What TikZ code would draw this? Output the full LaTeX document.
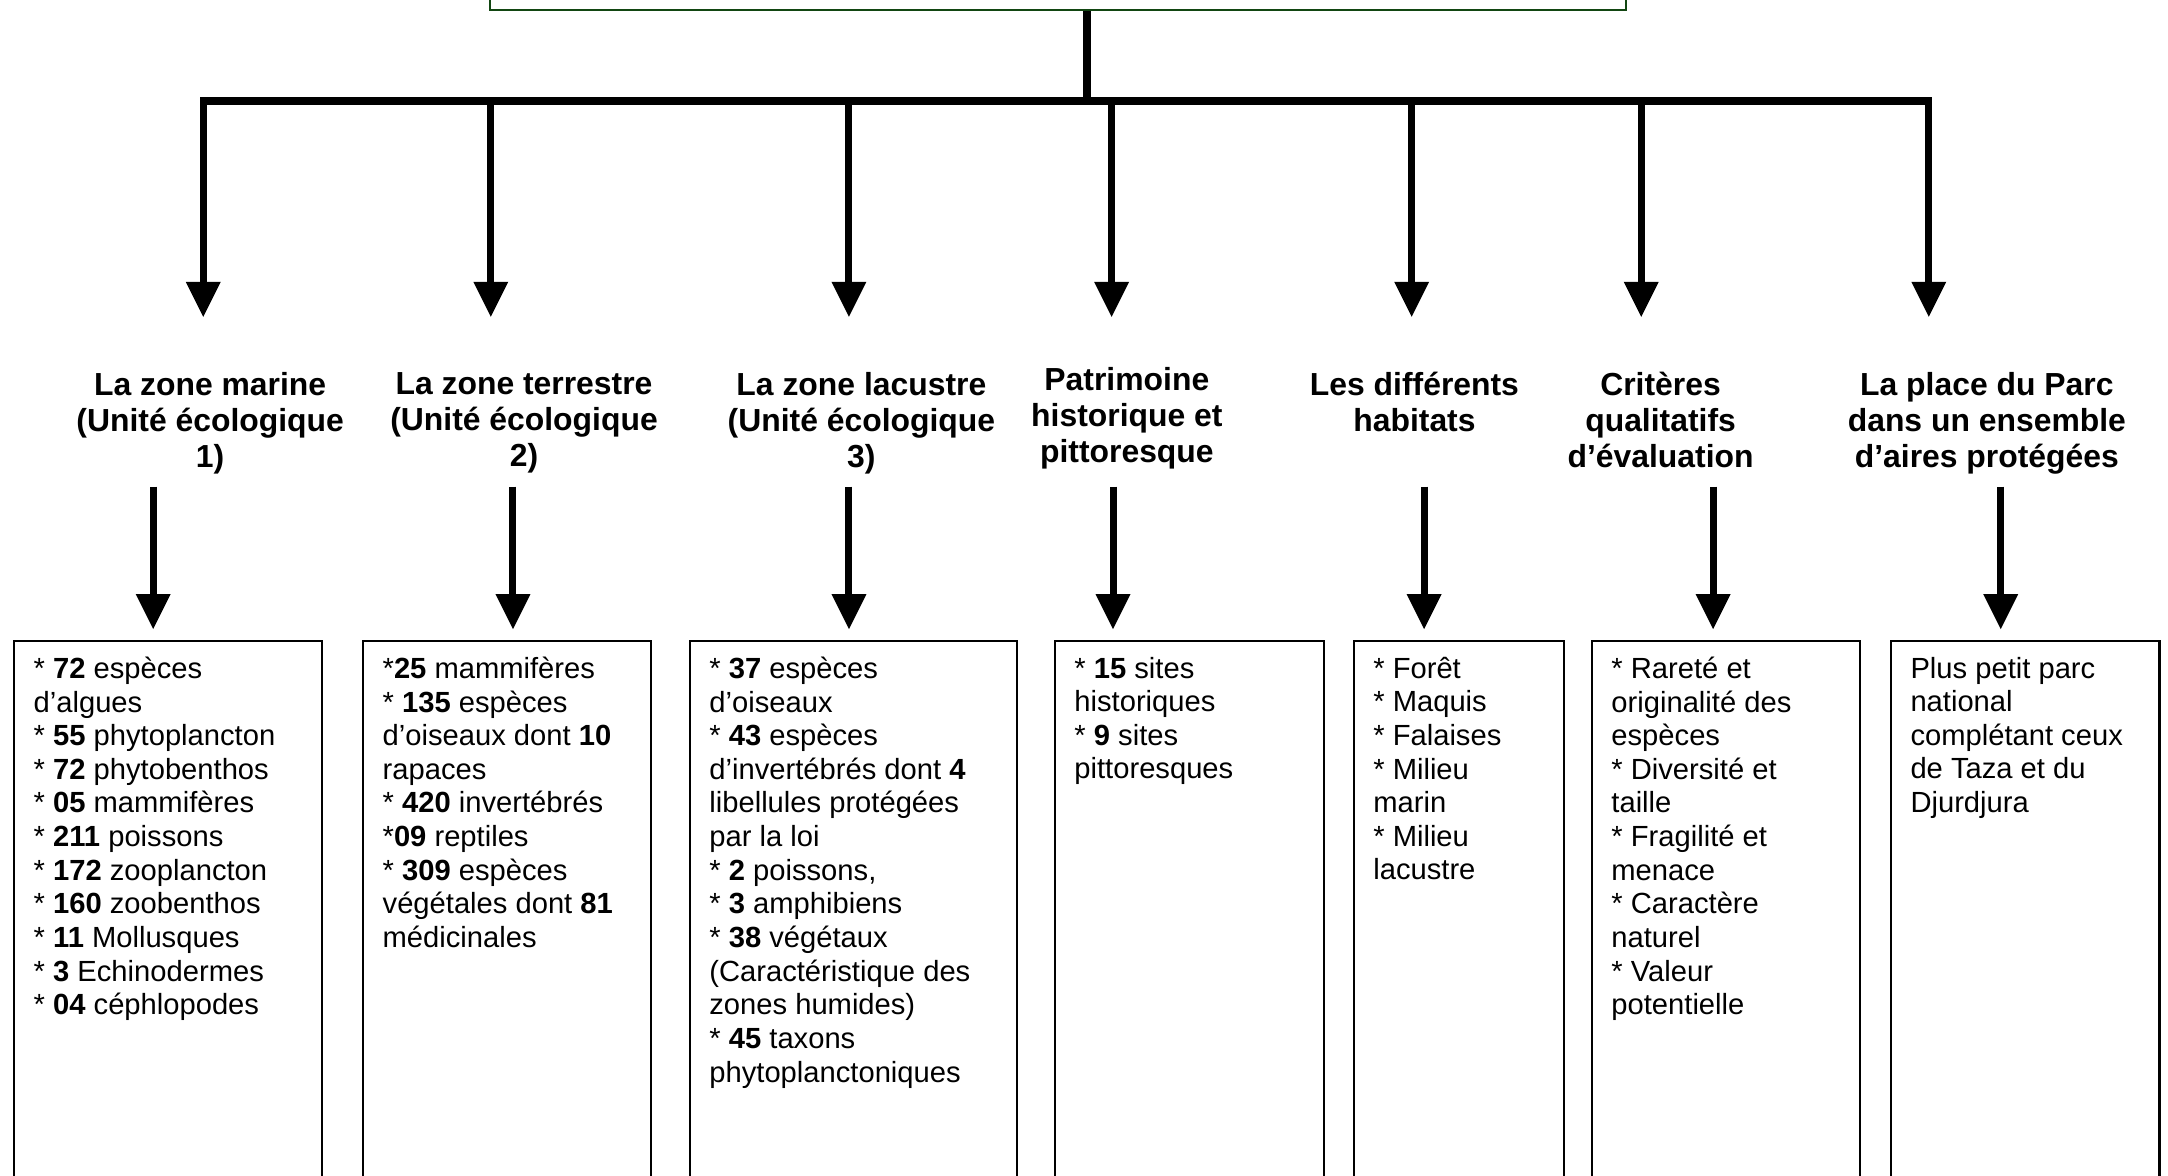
\documentclass[tikz,border=0pt]{standalone}
\usepackage{fontspec}
\setmainfont{Liberation Sans}
\usepackage{tikz}
\usetikzlibrary{arrows.meta,positioning}
\definecolor{parkgreen}{RGB}{18,70,18}
\tikzstyle{parkBlock} = [draw=parkgreen, line width=0.9pt, anchor=south west, inner sep=0pt,
    minimum width=20.53cm, minimum height=4cm]
\tikzstyle{title} = [font=\fontsize{16.4}{18.5}\selectfont\bfseries, align=center, anchor=north, inner sep=0pt]
\tikzstyle{block} = [rectangle, draw, line width=1.1pt, anchor=north west, inner sep=0pt, minimum height=10.5cm]
\tikzstyle{content} = [font=\fontsize{15}{17.3}\selectfont, align=left, inner sep=0pt]
\tikzstyle{line} = [draw, line width=3.6pt, -{Triangle[width=18pt, length=18pt, line width=0pt]}]
\tikzstyle{bar} = [draw, line width=4pt]

\begin{document}
\begin{tikzpicture}[x=0.025cm, y=-0.025cm]
    \useasboundingbox (0,0) rectangle (1568,850);
    % Place nodes
    \node [parkBlock] (park) at (353.7,8) {};
    \node [title] (marine) at (152,269.2) {La zone marine\\(Unité écologique\\1)};
    \node [title] (terrestre) at (379,269.2) {La zone terrestre\\(Unité écologique\\2)};
    \node [title] (lacustre) at (623,269.2) {La zone lacustre\\(Unité écologique\\3)};
    \node [title] (patrimoine) at (815,265.7) {Patrimoine\\historique et\\pittoresque};
    \node [title] (habitats) at (1023,269.2) {Les différents\\habitats};
    \node [title] (criteres) at (1201,269.2) {Critères\\qualitatifs\\d’évaluation};
    \node [title] (place) at (1437,269.2) {La place du Parc\\dans un ensemble\\d’aires protégées};

    \node [block, minimum width=5.56cm] (box1) at (9.6,463) {};
    \node [block, minimum width=5.2cm] (box2) at (262,463) {};
    \node [block, minimum width=5.9125cm] (box3) at (498.3,463) {};
    \node [block, minimum width=4.86cm] (box4) at (762.3,463) {};
    \node [block, minimum width=3.8cm] (box5) at (978.5,463) {};
    \node [block, minimum width=4.8475cm] (box6) at (1150.7,463) {};
    \node [block, minimum width=4.85cm] (box7) at (1367,463) {};

    \node [content, below right=8.4pt and 10.3pt of box1.north west] (list1) {* \textbf{72} espèces\\d’algues\\* \textbf{55} phytoplancton\\* \textbf{72} phytobenthos\\* \textbf{05} mammifères\\* \textbf{211} poissons\\* \textbf{172} zooplancton\\* \textbf{160} zoobenthos\\* \textbf{11} Mollusques\\* \textbf{3} Echinodermes\\* \textbf{04} céphlopodes};
    \node [content, below right=8.4pt and 10.3pt of box2.north west] (list2) {*\textbf{25} mammifères\\* \textbf{135} espèces\\d’oiseaux dont \textbf{10}\\rapaces\\* \textbf{420} invertébrés\\*\textbf{09} reptiles\\* \textbf{309} espèces\\végétales dont \textbf{81}\\médicinales};
    \node [content, below right=8.4pt and 10.3pt of box3.north west] (list3) {* \textbf{37} espèces\\d’oiseaux\\* \textbf{43} espèces\\d’invertébrés dont \textbf{4}\\libellules protégées\\par la loi\\* \textbf{2} poissons,\\* \textbf{3} amphibiens\\* \textbf{38} végétaux\\(Caractéristique des\\zones humides)\\* \textbf{45} taxons\\phytoplanctoniques};
    \node [content, below right=8.4pt and 10.3pt of box4.north west] (list4) {* \textbf{15} sites\\historiques\\* \textbf{9} sites\\pittoresques};
    \node [content, below right=8.4pt and 10.3pt of box5.north west] (list5) {* Forêt\\* Maquis\\* Falaises\\* Milieu\\marin\\* Milieu\\lacustre};
    \node [content, below right=8.4pt and 10.3pt of box6.north west] (list6) {* Rareté et\\originalité des\\espèces\\* Diversité et\\taille\\* Fragilité et\\menace\\* Caractère\\naturel\\* Valeur\\potentielle};
    \node [content, below right=8.4pt and 10.3pt of box7.north west] (list7) {Plus petit parc\\national\\complétant ceux\\de Taza et du\\Djurdjura};

    % bar and arrow start points
    \coordinate (hub) at (786,73);
    \coordinate (barL) at (145,73);
    \coordinate (barR) at (1397,73);
    \coordinate (j1) at (147,73);
    \coordinate (j2) at (355,73);
    \coordinate (j3) at (614,73);
    \coordinate (j4) at (804,73);
    \coordinate (j5) at (1021,73);
    \coordinate (j6) at (1187,73);
    \coordinate (j7) at (1395,73);
    \coordinate (d1) at (110.8,352);
    \coordinate (d2) at (371,352);
    \coordinate (d3) at (614,352);
    \coordinate (d4) at (805,352);
    \coordinate (d5) at (1030,352);
    \coordinate (d6) at (1239,352);
    \coordinate (d7) at (1447,352);

    % Draw edges
    \path [bar] (park.south -| hub) -- (hub);
    \path [bar] (barL) -- (barR);
    \path [line, shorten >=28.5pt] (j1) -- (j1 |- marine.north);
    \path [line, shorten >=28.5pt] (j2) -- (j2 |- terrestre.north);
    \path [line, shorten >=28.5pt] (j3) -- (j3 |- lacustre.north);
    \path [line, shorten >=26pt] (j4) -- (j4 |- patrimoine.north);
    \path [line, shorten >=28.5pt] (j5) -- (j5 |- habitats.north);
    \path [line, shorten >=28.5pt] (j6) -- (j6 |- criteres.north);
    \path [line, shorten >=28.5pt] (j7) -- (j7 |- place.north);

    \path [line, shorten >=5.7pt] (d1) -- (d1 |- box1.north);
    \path [line, shorten >=5.7pt] (d2) -- (d2 |- box2.north);
    \path [line, shorten >=5.7pt] (d3) -- (d3 |- box3.north);
    \path [line, shorten >=5.7pt] (d4) -- (d4 |- box4.north);
    \path [line, shorten >=5.7pt] (d5) -- (d5 |- box5.north);
    \path [line, shorten >=5.7pt] (d6) -- (d6 |- box6.north);
    \path [line, shorten >=5.7pt] (d7) -- (d7 |- box7.north);
\end{tikzpicture}
\end{document}
